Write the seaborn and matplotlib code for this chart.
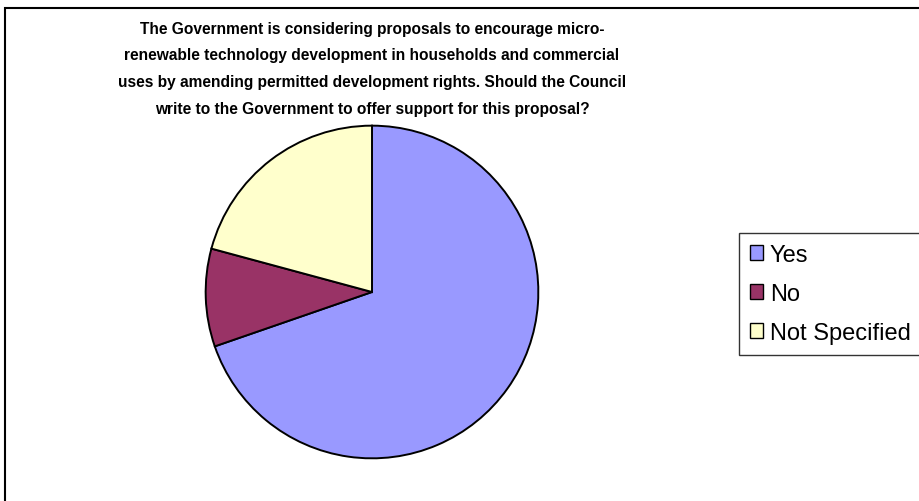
import seaborn as sns
import matplotlib.pyplot as plt
from matplotlib.patches import Patch, Rectangle

labels = ['Yes', 'No', 'Not Specified']
shares = [69.7, 9.5, 20.8]
colors = ['#9999FF', '#993366', '#FFFFCC']

title = ('The Government is considering proposals to encourage micro-\n'
         'renewable technology development in households and commercial\n'
         'uses by amending permitted development rights. Should the Council\n'
         'write to the Government to offer support for this proposal?')

sns.set_style('white')
plt.rcParams['font.family'] = ['Liberation Sans', 'DejaVu Sans']

W, H = 919, 502
fig = plt.figure(figsize=(W / 100, H / 100), dpi=100)

# pie area: centre (372, 293), radius 168 px
ax = fig.add_axes([204 / W, 41 / H, 336 / W, 336 / H])
ax.pie(shares, colors=colors, startangle=90, counterclock=False,
       wedgeprops=dict(edgecolor='black', linewidth=1.4))
ax.set_xlim(-1.01, 1.01)
ax.set_ylim(-1.01, 1.01)
ax.set_aspect('equal')
ax.axis('off')

# multi-line title: last line's baseline sits just above the pie
fig.text(372 / W, 1 - 114 / H, title, ha='center', va='baseline',
         multialignment='center', fontsize=11.2, fontweight='bold',
         linespacing=1.98, color='black')

# outer chart frame (right and bottom edges fall outside the picture)
fig.patches.append(Rectangle((5 / W, -0.1), 1.2, (H - 9) / H + 0.1,
                             transform=fig.transFigure, fill=False,
                             edgecolor='black', linewidth=1.5))

handles = [Patch(facecolor=c, edgecolor='black', linewidth=1) for c in colors]
leg = fig.legend(handles, labels, loc='upper left',
                 bbox_to_anchor=(739 / W, 1 - 234 / H), fontsize=17,
                 frameon=True, fancybox=False, edgecolor='black',
                 handlelength=0.58, handleheight=0.58, handletextpad=0.28,
                 labelspacing=0.73, borderpad=0.45, borderaxespad=0)
leg.get_frame().set_linewidth(1.0)
for t in leg.get_texts():
    t.set_color('black')

fig.savefig('out.png', dpi=100)
